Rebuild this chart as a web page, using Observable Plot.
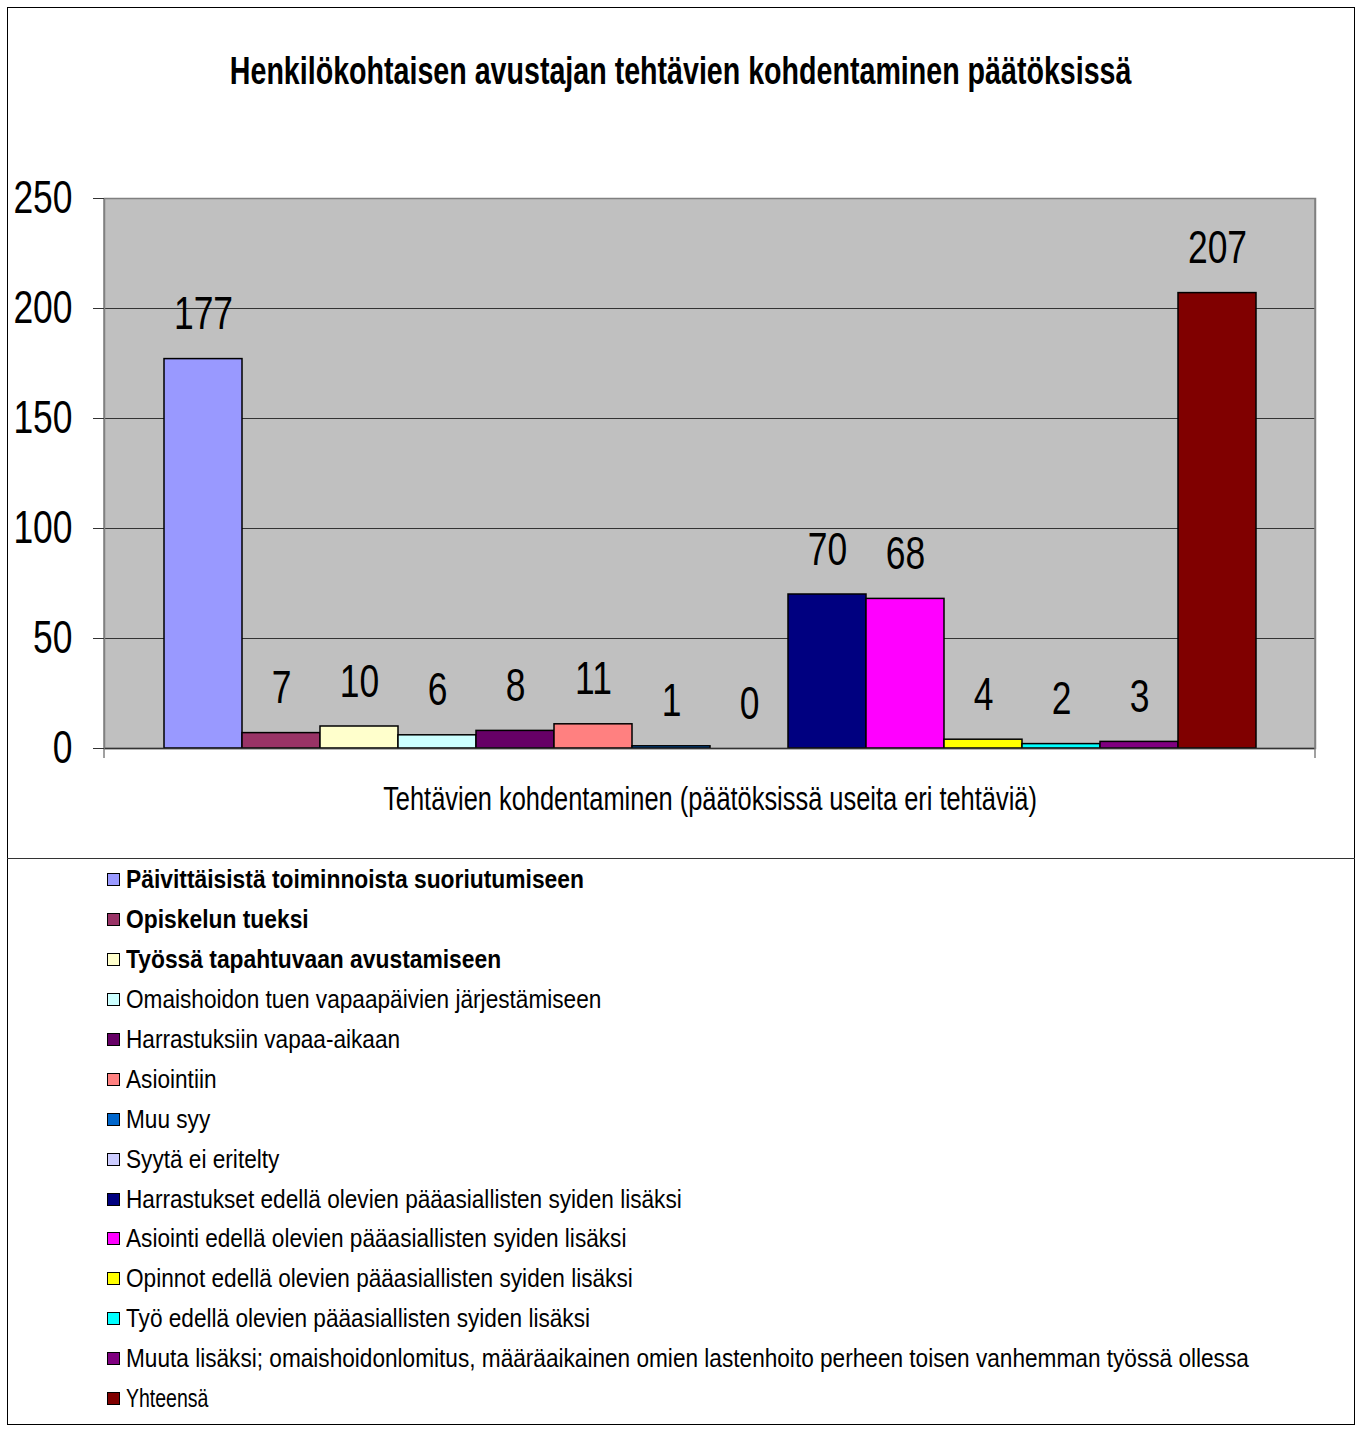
<!DOCTYPE html>
<html>
<head>
<meta charset="utf-8">
<script src="https://cdn.jsdelivr.net/npm/d3@7"></script>
<script src="https://cdn.jsdelivr.net/npm/@observablehq/plot@0.6"></script>
<style>
  html, body { margin: 0; padding: 0; background: #fff; }
  #page { position: relative; width: 1361px; height: 1441px; font-family: "Liberation Sans", Arial, sans-serif; color: #000; }
  #box { position: absolute; left: 7px; top: 7px; width: 1348px; height: 1418px; border: 1px solid #000; box-sizing: border-box; }
  #divider { position: absolute; left: 7px; top: 858px; width: 1348px; height: 0; border-top: 1px solid #333; }
  #title { position: absolute; left: 0; width: 1361px; top: 50px; text-align: center; font-weight: bold; font-size: 38px; line-height: 1.15; transform: scaleX(0.753); transform-origin: 681px 0; white-space: nowrap; }
  #chart { position: absolute; left: 0; top: 0; }
  #legend { position: absolute; left: 107px; top: 860px; }
  .item { height: 39.9px; display: flex; align-items: center; font-size: 26px; white-space: nowrap; }
  .sw { width: 11px; height: 11px; border: 1.5px solid #000; margin-right: 6px; flex: none; }
  .lab { display: inline-block; transform-origin: 0 50%; transform: scaleX(0.87); }
  .item.bold .lab { font-weight: bold; transform: scaleX(0.878); }
  .item.last .lab { transform: scaleX(0.75); }
</style>
</head>
<body>
<div id="page">
  <div id="box"></div>
  <div id="divider"></div>
  <div id="title"></div>
  <div id="chart"></div>
  <div id="legend"></div>
</div>
<script>
const title = "Henkilökohtaisen avustajan tehtävien kohdentaminen päätöksissä";
const xLabel = "Tehtävien kohdentaminen (päätöksissä useita eri tehtäviä)";
const categories = [
  "Päivittäisistä toiminnoista suoriutumiseen",
  "Opiskelun tueksi",
  "Työssä tapahtuvaan avustamiseen",
  "Omaishoidon tuen vapaapäivien järjestämiseen",
  "Harrastuksiin vapaa-aikaan",
  "Asiointiin",
  "Muu syy",
  "Syytä ei eritelty",
  "Harrastukset edellä olevien pääasiallisten syiden lisäksi",
  "Asiointi edellä olevien pääasiallisten syiden lisäksi",
  "Opinnot edellä olevien pääasiallisten syiden lisäksi",
  "Työ edellä olevien pääasiallisten syiden lisäksi",
  "Muuta lisäksi; omaishoidonlomitus, määräaikainen omien lastenhoito perheen toisen vanhemman työssä ollessa",
  "Yhteensä"
];
const values = [177, 7, 10, 6, 8, 11, 1, 0, 70, 68, 4, 2, 3, 207];
const palette = ["#9999FF", "#993366", "#FFFFCC", "#CCFFFF", "#660066", "#FF8080", "#0066CC",
                 "#CCCCFF", "#000080", "#FF00FF", "#FFFF00", "#00FFFF", "#800080", "#800000"];
const yTicks = [0, 50, 100, 150, 200, 250];

const rows = categories.map((c, i) => ({category: c, value: values[i]}));

document.getElementById("title").textContent = title;

function edgeLines(index, scales, vals, dimensions) {
  const {marginLeft, marginRight, marginTop, width} = dimensions;
  const y0 = scales.y(0);
  const g = d3.create("svg:g").attr("stroke", "#808080").attr("stroke-width", 1.5);
  g.append("line").attr("x1", marginLeft).attr("x2", marginLeft).attr("y1", marginTop).attr("y2", y0 + 10);
  g.append("line").attr("x1", width - marginRight).attr("x2", width - marginRight).attr("y1", marginTop).attr("y2", y0 + 10);
  return g.node();
}

const chart = Plot.plot({
  width: 1361,
  height: 858,
  marginTop: 198,
  marginLeft: 104,
  marginRight: 46,
  marginBottom: 110,
  style: {background: "transparent", fontFamily: "'Liberation Sans', Arial, sans-serif", color: "#000"},
  x: {domain: categories, paddingInner: 0, paddingOuter: 0.74, axis: null},
  y: {domain: [0, 250], axis: null},
  color: {domain: categories, range: palette},
  marks: [
    Plot.frame({fill: "#C0C0C0", stroke: null}),
    Plot.gridY(yTicks, {stroke: "#333", strokeOpacity: 1, strokeWidth: 1}),
    Plot.frame({stroke: "#808080", strokeWidth: 1.5, fill: null}),
    Plot.barY(rows, {x: "category", y: "value", fill: "category", stroke: "#000", strokeWidth: 1.5}),
    Plot.ruleY([0], {stroke: "#333", strokeWidth: 1.5}),
    edgeLines,
    Plot.text(rows, {x: "category", y: "value", text: d => String(d.value), dy: -30, lineAnchor: "bottom", fontSize: 46, fill: "#000"}),
    Plot.axisY({ticks: yTicks, tickSize: 11, tickPadding: 21, fontSize: 46, stroke: "#333", fill: "#000", label: null}),
    Plot.text([xLabel], {frameAnchor: "bottom", dy: 51, lineAnchor: "middle", fontSize: 33, fill: "#000"})
  ]
});

// condense the SVG texts horizontally around their anchor points (narrow typeface look)
chart.querySelectorAll("text").forEach(t => {
  const x = +t.getAttribute("x") || 0, y = +t.getAttribute("y") || 0;
  const tr = t.getAttribute("transform") || "";
  t.setAttribute("transform", `${tr} translate(${x},${y}) scale(0.77,1) translate(${-x},${-y})`);
});
document.getElementById("chart").appendChild(chart);

const legend = document.getElementById("legend");
categories.forEach((c, i) => {
  const item = document.createElement("div");
  item.className = "item" + (i < 3 ? " bold" : "") + (i === categories.length - 1 ? " last" : "");
  const sw = document.createElement("span");
  sw.className = "sw";
  sw.style.background = palette[i];
  const label = document.createElement("span");
  label.className = "lab";
  label.textContent = c;
  item.appendChild(sw);
  item.appendChild(label);
  legend.appendChild(item);
});
</script>
</body>
</html>
